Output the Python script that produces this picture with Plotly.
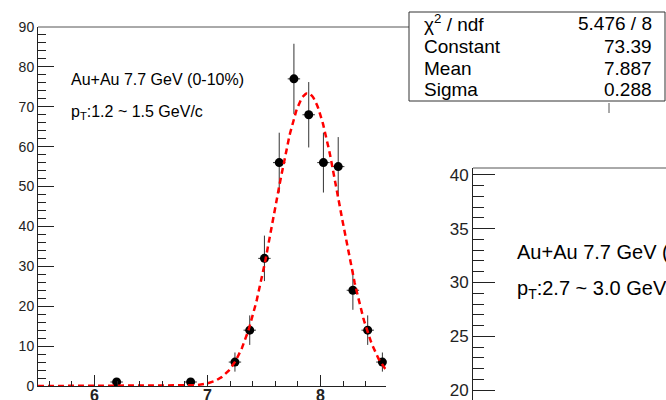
import numpy as np
import plotly.graph_objects as go

# ---- data ----
bin_centers = [6.196, 6.851, 7.243, 7.374, 7.504, 7.635, 7.765, 7.896, 8.026, 8.157, 8.287, 8.418, 8.548]
counts = [1, 1, 6, 14, 32, 56, 77, 68, 56, 55, 24, 14, 6]
count_errors = [1.0, 1.0, 2.4, 3.7, 5.7, 7.5, 8.8, 8.2, 7.5, 7.4, 4.9, 3.7, 2.4]
bin_half_width = [0.055] * len(bin_centers)

# Gaussian fit parameters (stats box)
fit_constant = 73.39
fit_mean = 7.887
fit_sigma = 0.288
stat_labels = ["\u03c7<sup>2</sup> / ndf", "Constant", "Mean", "Sigma"]
stat_values = ["5.476 / 8", "73.39", "7.887", "0.288"]

W, H = 666, 400
def px(x):
    return x / W
def py(y):
    return 1 - y / H

FONT = "Liberation Sans, Arial, Helvetica, sans-serif"

fig = go.Figure()

fig.add_trace(go.Scatter(
    x=bin_centers, y=counts, mode="markers",
    marker=dict(color="black", size=9),
    error_y=dict(type="data", array=count_errors, color="#333", thickness=1, width=0),
    error_x=dict(type="data", array=bin_half_width, color="#333", thickness=1, width=0),
    xaxis="x", yaxis="y", cliponaxis=False, showlegend=False,
))

xf = np.linspace(5.5, 8.58, 400)
yf = fit_constant * np.exp(-0.5 * ((xf - fit_mean) / fit_sigma) ** 2)
fig.add_trace(go.Scatter(
    x=xf, y=yf, mode="lines",
    line=dict(color="#ff0000", width=2.5, dash="6px,4px"),
    xaxis="x", yaxis="y", showlegend=False,
))

# empty trace for the second pad
fig.add_trace(go.Scatter(x=[0], y=[30], mode="markers", marker=dict(opacity=0),
                         xaxis="x2", yaxis="y2", showlegend=False, hoverinfo="skip"))

fig.update_layout(
    width=W, height=H, margin=dict(l=0, r=0, t=0, b=0, autoexpand=False),
    paper_bgcolor="white", plot_bgcolor="rgba(0,0,0,0)",
    font=dict(family=FONT, color="#222"),
    xaxis=dict(
        domain=[px(38), px(386)], range=[5.5, 8.58], anchor="y", automargin=False,
        showline=True, linecolor="#222", linewidth=1,
        ticks="inside", ticklen=11, tickwidth=1, tickcolor="#222",
        tick0=0, dtick=1, showgrid=False, zeroline=False, ticklabelstandoff=-5,
        minor=dict(ticks="inside", ticklen=5, dtick=0.2, tick0=0, tickcolor="#222", showgrid=False),
        tickfont=dict(size=16, color="#222", family=FONT, weight="bold"),
    ),
    yaxis=dict(
        domain=[py(386), py(27)], range=[0, 90], anchor="x", automargin=False,
        showline=True, linecolor="#222", linewidth=1,
        ticks="inside", ticklen=16, tickwidth=1, tickcolor="#222",
        tick0=0, dtick=10, showgrid=False, zeroline=False,
        minor=dict(ticks="inside", ticklen=8, dtick=2, tick0=0, tickcolor="#222", showgrid=False),
        tickfont=dict(size=14, color="#222", family=FONT),
    ),
    xaxis2=dict(
        domain=[px(473), 1], range=[0, 1], anchor="y2", automargin=False,
        showline=False, showticklabels=False, ticks="", showgrid=False, zeroline=False,
    ),
    yaxis2=dict(
        domain=[0, py(168)], range=[19.07, 40.65], anchor="x2", automargin=False,
        showline=True, linecolor="#222", linewidth=1,
        ticks="inside", ticklen=22, tickwidth=1, tickcolor="#222",
        tick0=0, dtick=5, showgrid=False, zeroline=False,
        minor=dict(ticks="inside", ticklen=11, dtick=1, tick0=0, tickcolor="#222", showgrid=False),
        tickfont=dict(size=17, color="#222", family=FONT),
    ),
)

shapes = [
    dict(type="line", xref="paper", yref="paper", x0=px(38), x1=px(409), y0=py(27), y1=py(27),
         line=dict(color="#555", width=1)),
    dict(type="line", xref="paper", yref="paper", x0=px(473), x1=1, y0=py(168), y1=py(168),
         line=dict(color="#555", width=1)),
    dict(type="rect", xref="paper", yref="paper", x0=px(409), x1=px(665), y0=py(101), y1=py(12),
         fillcolor="white", line=dict(color="#333", width=1), layer="above"),
    dict(type="line", xref="paper", yref="paper", x0=px(609), x1=px(609), y0=py(103), y1=py(113),
         line=dict(color="#555", width=1)),
]
fig.update_layout(shapes=shapes)

ann = []
row_y = [23, 46, 68, 90]
for lab, val, yy in zip(stat_labels, stat_values, row_y):
    ann.append(dict(x=px(422), y=py(yy), xref="paper", yref="paper", text=lab, showarrow=False,
                    xanchor="left", yanchor="middle", font=dict(size=19, color="black", family=FONT)))
    ann.append(dict(x=px(654), y=py(yy), xref="paper", yref="paper", text=val, showarrow=False,
                    xanchor="right", yanchor="middle", font=dict(size=19, color="black", family=FONT)))

ann.append(dict(x=px(69), y=py(80), xref="paper", yref="paper", text="Au+Au 7.7 GeV (0-10%)",
                showarrow=False, xanchor="left", yanchor="middle", font=dict(size=16, color="black", family=FONT)))
ann.append(dict(x=px(69), y=py(112), xref="paper", yref="paper", text="p<sub>T</sub>:1.2 ~ 1.5 GeV/c",
                showarrow=False, xanchor="left", yanchor="middle", font=dict(size=16, color="black", family=FONT)))
ann.append(dict(x=px(515), y=py(252), xref="paper", yref="paper", text="Au+Au 7.7 GeV (0-10%)",
                showarrow=False, xanchor="left", yanchor="middle", font=dict(size=20, color="black", family=FONT)))
ann.append(dict(x=px(515), y=py(289), xref="paper", yref="paper", text="p<sub>T</sub>:2.7 ~ 3.0 GeV/c",
                showarrow=False, xanchor="left", yanchor="middle", font=dict(size=20, color="black", family=FONT)))
fig.update_layout(annotations=ann)

fig.write_html("out.html")
